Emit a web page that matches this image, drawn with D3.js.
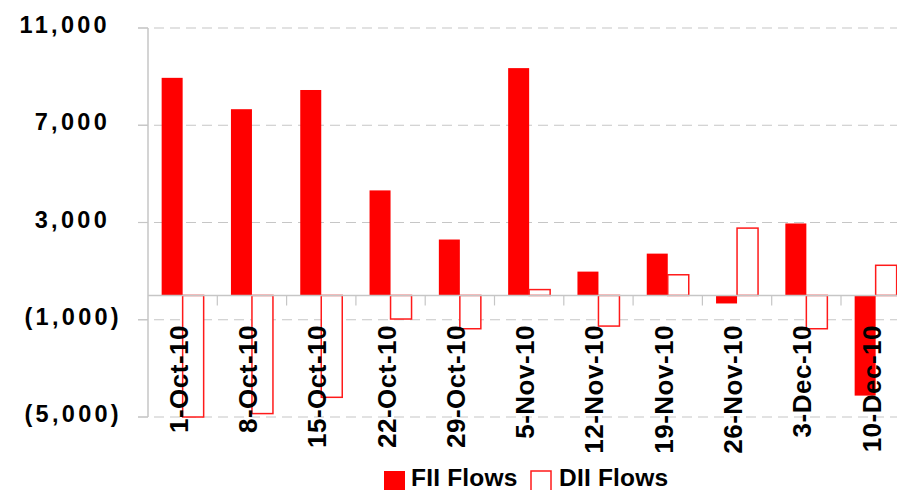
<!DOCTYPE html>
<html>
<head>
<meta charset="utf-8">
<script src="https://cdn.jsdelivr.net/npm/d3@7"></script>
<style>
  html, body { margin: 0; padding: 0; background: #fff; }
  svg { display: block; }
  text { font-family: "Liberation Sans", Arial, sans-serif; font-weight: bold; fill: #000; }
</style>
</head>
<body>
<svg id="chart" width="897" height="490"></svg>
<script>
const categories = ["1-Oct-10","8-Oct-10","15-Oct-10","22-Oct-10","29-Oct-10","5-Nov-10","12-Nov-10","19-Nov-10","26-Nov-10","3-Dec-10","10-Dec-10"];
const fiiFlows = [8950, 7660, 8450, 4320, 2300, 9350, 980, 1720, -330, 2960, -4120];
const diiFlows = [-5000, -4860, -4190, -970, -1370, 240, -1260, 850, 2770, -1370, 1240];
const seriesNames = ["FII Flows", "DII Flows"];
const yTicks = [-5000, -1000, 3000, 7000, 11000];

const svg = d3.select("#chart");
const left = 148, plotTop = 28, plotBottom = 417;
const catW = 69.3;
const right = left + catW * categories.length;

const x = d3.scaleBand().domain(categories).range([left, right]).paddingInner(0).paddingOuter(0);
const xs = d3.scaleBand().domain(seriesNames).range([0, x.bandwidth()]).paddingInner(0).paddingOuter(0.65);
const y = d3.scaleLinear().domain([-5000, 11000]).range([plotBottom, plotTop]);

const grid = "#c6c6c6";

// gridlines
svg.append("g").selectAll("line").data(yTicks).join("line")
  .attr("x1", left - 10).attr("x2", 897)
  .attr("y1", d => y(d)).attr("y2", d => y(d))
  .attr("stroke", grid).attr("stroke-width", 1.2)
  .attr("stroke-dasharray", "10,6");

// y tick marks (solid)
svg.append("g").selectAll("line").data(yTicks).join("line")
  .attr("x1", left - 10).attr("x2", left)
  .attr("y1", d => y(d)).attr("y2", d => y(d))
  .attr("stroke", grid).attr("stroke-width", 1.2);

// y axis line
svg.append("line").attr("x1", left).attr("x2", left)
  .attr("y1", y(11000)).attr("y2", y(-5000))
  .attr("stroke", grid).attr("stroke-width", 1.5);

// y labels
const fmt = d3.format(",");
svg.append("g").selectAll("text").data(yTicks).join("text")
  .attr("x", d => d < 0 ? 122 : 110)
  .attr("y", d => y(d) + 5)
  .attr("text-anchor", "end")
  .attr("font-size", 23.5)
  .attr("letter-spacing", 3.3)
  .text(d => d < 0 ? "(" + fmt(-d) + ")" : fmt(d));

// bars
const bars = svg.append("g");
bars.selectAll("rect.fii").data(categories).join("rect")
  .attr("class", "fii")
  .attr("x", (c) => x(c) + xs("FII Flows"))
  .attr("width", xs.bandwidth())
  .attr("y", (c, i) => y(Math.max(0, fiiFlows[i])))
  .attr("height", (c, i) => Math.abs(y(fiiFlows[i]) - y(0)))
  .attr("fill", "#ff0000");

bars.selectAll("rect.dii").data(categories).join("rect")
  .attr("class", "dii")
  .attr("x", (c) => x(c) + xs("DII Flows"))
  .attr("width", xs.bandwidth())
  .attr("y", (c, i) => y(Math.max(0, diiFlows[i])))
  .attr("height", (c, i) => Math.abs(y(diiFlows[i]) - y(0)))
  .attr("fill", "#fff")
  .attr("stroke", "#ff1a1a").attr("stroke-width", 1.5);

// zero axis line
svg.append("line").attr("x1", left).attr("x2", 897)
  .attr("y1", y(0)).attr("y2", y(0))
  .attr("stroke", grid).attr("stroke-width", 1.5);
// category tick marks on zero line
svg.append("g").selectAll("line").data(categories.slice(1).concat(["__end"])).join("line")
  .attr("x1", (c, i) => left + catW * (i + 1)).attr("x2", (c, i) => left + catW * (i + 1))
  .attr("y1", y(0)).attr("y2", y(0) + 10)
  .attr("stroke", grid).attr("stroke-width", 1.2);

// x labels
svg.append("g").selectAll("text").data(categories).join("text")
  .attr("transform", c => `translate(${x(c) + x.bandwidth() / 2 + 5},325) rotate(-90)`)
  .attr("text-anchor", "end")
  .attr("font-size", 26)
  .attr("letter-spacing", 0.5)
  .text(c => c);

// legend
const lg = svg.append("g");
lg.append("rect").attr("x", 384).attr("y", 471).attr("width", 21).attr("height", 21).attr("fill", "#ff0000");
lg.append("text").attr("x", 411).attr("y", 486).attr("font-size", 24.5).attr("letter-spacing", 0.2).text(seriesNames[0]);
lg.append("rect").attr("x", 531).attr("y", 471).attr("width", 20).attr("height", 21)
  .attr("fill", "#fff").attr("stroke", "#ff1a1a").attr("stroke-width", 1.5);
lg.append("text").attr("x", 559).attr("y", 486).attr("font-size", 24.5).attr("letter-spacing", 0.2).text(seriesNames[1]);
</script>
</body>
</html>
